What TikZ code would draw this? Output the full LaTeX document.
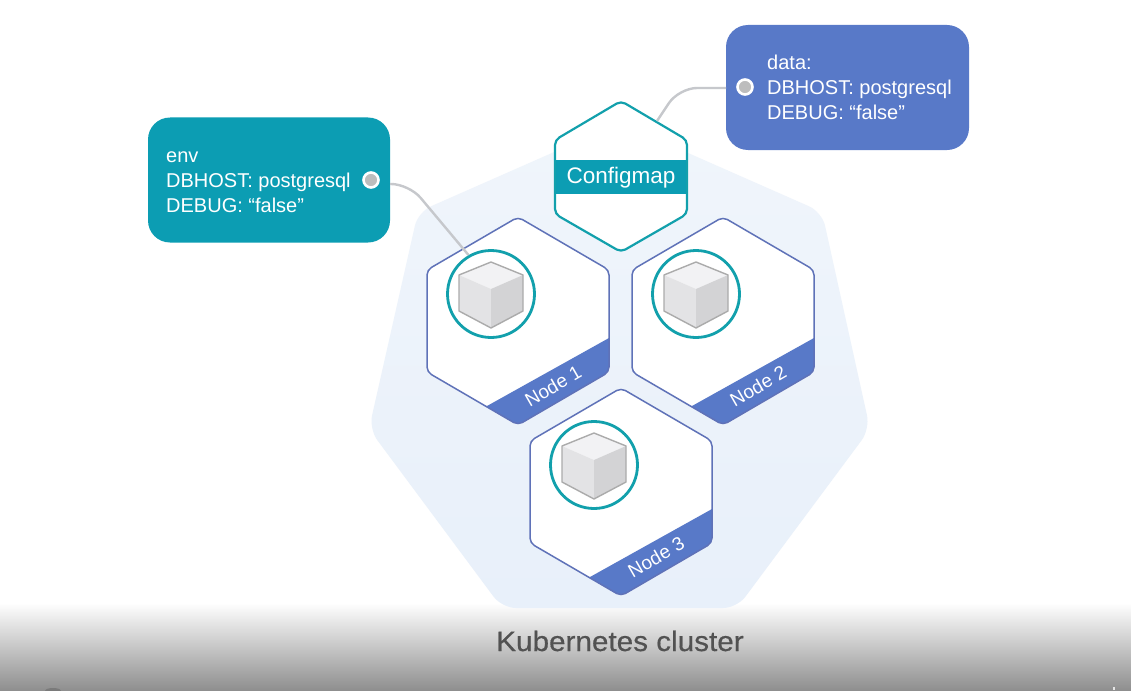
\documentclass[tikz,border=0pt]{standalone}
\usepackage{fontspec}
\setmainfont{Liberation Sans}
\newfontfamily\titlefont[FakeBold=0.5,FakeStretch=1.06]{Liberation Sans}
\definecolor{tealc}{HTML}{0C9DB3}
\definecolor{ringc}{HTML}{12A0AC}
\definecolor{bluec}{HTML}{5879C8}
\definecolor{hexline}{HTML}{5F72B8}
\definecolor{clustertop}{HTML}{F0F5FB}
\definecolor{clusterbot}{HTML}{E8F0FA}
\definecolor{linkc}{HTML}{C6C8CC}
\definecolor{dotc}{HTML}{BDBDBD}
\definecolor{cubetop}{HTML}{F2F2F4}
\definecolor{cubeleft}{HTML}{E3E3E5}
\definecolor{cuberight}{HTML}{D3D3D5}
\definecolor{cubeline}{HTML}{ABABAB}
\tikzset{
  infobox/.style={fill=#1,rounded corners=22pt,minimum width=242pt,minimum height=125pt,inner sep=0pt},
  infotext/.style={text=white,font=\fontsize{20}{25}\selectfont,align=left,anchor=west,inner sep=0pt},
  linkline/.style={draw=linkc,line width=2.4pt,rounded corners=18pt},
  portdot/.style={circle,fill=dotc,draw=white,line width=2.6pt,minimum size=15pt,inner sep=0pt},
  ring/.style={circle,draw=ringc,line width=2.8pt,fill=white,minimum size=87pt,inner sep=0pt},
  bandtext/.style={text=white,font=\fontsize{19}{21}\selectfont,rotate=30,inner sep=0pt},
}
\newcommand{\workerhex}[5]{%
 \begin{scope}[shift={(#1,#2)}]
  \path[fill=white,rounded corners=5pt] (0,-1) -- (91,52) -- (91,154) -- (0,207) -- (-91,154) -- (-91,52) -- cycle;
  \begin{scope}
   \clip[rounded corners=5pt] (0,-1) -- (91,52) -- (91,154) -- (0,207) -- (-91,154) -- (-91,52) -- cycle;
   \fill[bluec] (91,120) -- (-31,188) -- (-31,230) -- (120,230) -- (120,120) -- cycle;
  \end{scope}
  \draw[hexline,line width=1.5pt,rounded corners=5pt] (0,-1) -- (91,52) -- (91,154) -- (0,207) -- (-91,154) -- (-91,52) -- cycle;
  \node[ring] (#3) at (-27,76) {};
  \fill[fill=cubetop] (-27,44) -- (5,57) -- (-27,71) -- (-59,57) -- cycle;
  \fill[fill=cubeleft] (-59,57) -- (-27,71) -- (-27,110) -- (-59,93) -- cycle;
  \fill[fill=cuberight] (5,57) -- (-27,71) -- (-27,110) -- (5,93) -- cycle;
  \draw[cubeline,line width=1.4pt,line join=round] (-27,44) -- (5,57) -- (5,93) -- (-27,110) -- (-59,93) -- (-59,57) -- cycle;
  \node[bandtext] (#4) at (35,168) {#5};
 \end{scope}}
\begin{document}
\begin{tikzpicture}[x=1pt,y=-1pt]
\useasboundingbox (0,0) rectangle (1131,690);
\fill[white] (0,0) rectangle (1131,690);
% footer
\shade[top color=white,bottom color=black!44] (0,603) rectangle (1131,690);
\begin{scope}
 \clip (0,0) rectangle (1131,690);
 \fill[black!52] (53,691) ellipse (8pt and 3pt);
 \fill[black!10] (1113,687) rectangle (1115,690);
\end{scope}
% cluster
\shade[top color=clustertop,bottom color=clusterbot,rounded corners=14pt] (620,123) -- (822,212) -- (870,429) -- (737,608) -- (502,608) -- (369,429) -- (418,212) -- cycle;
\node[font=\titlefont\fontsize{28}{30}\selectfont,text=black!68] (title) at (620,641) {Kubernetes cluster};
% workers
\workerhex{518}{218}{ringa}{labela}{Node 1}
\workerhex{723}{218}{ringb}{labelb}{Node 2}
\workerhex{621}{389}{ringc}{labelc}{Node 3}
% configmap hexagon
\path[fill=white,rounded corners=5pt] (621,101) -- (687,140) -- (687,214) -- (621,252) -- (555,214) -- (555,140) -- cycle;
\fill[tealc] (555,160) rectangle (687,194);
\draw[ringc,line width=2.2pt,rounded corners=5pt] (621,101) -- (687,140) -- (687,214) -- (621,252) -- (555,214) -- (555,140) -- cycle;
\node[text=white,font=\fontsize{22.5}{25}\selectfont,inner sep=0pt] (cfg) at (621,178) {Configmap};
\coordinate (cfgedge) at (657,121);
% boxes
\node[infobox=tealc] (envbox) at (269,180) {};
\node[infobox=bluec,minimum width=243pt] (databox) at (847.5,87.5) {};
\node[infotext] (envtext) at (166,182) {env\\DBHOST: postgresql\\DEBUG: “false”};
\node[infotext] (datatext) at (767,87) {data:\\DBHOST: postgresql\\DEBUG: “false”};
% connectors
\coordinate (enventry) at (390,184);
\coordinate (dataentry) at (726,88);
\draw[linkline] (cfgedge) -- (679,88) -- (dataentry);
\draw[linkline] (enventry) -- (409,184) -- (ringa.120);
\node[portdot] (envdot) at (371,180) {};
\node[portdot] (datadot) at (745,87) {};
\end{tikzpicture}
\end{document}
